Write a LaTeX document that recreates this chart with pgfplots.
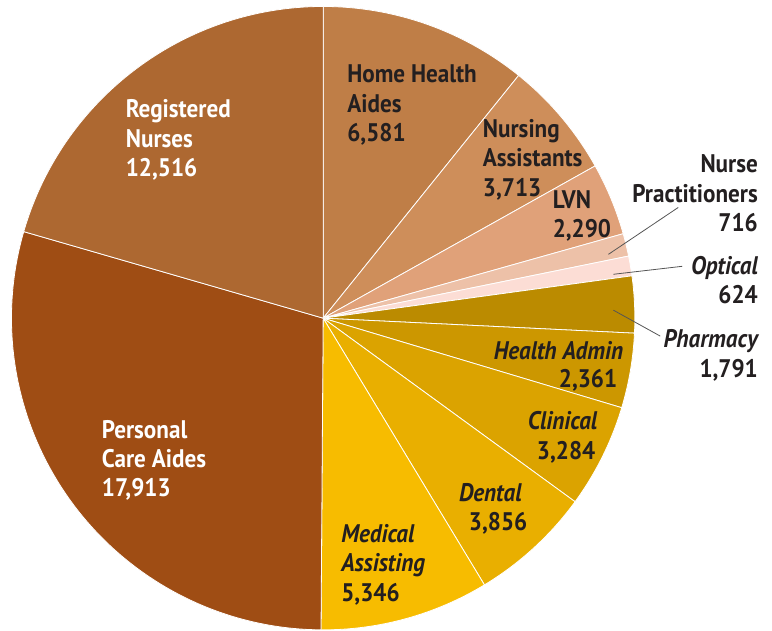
\documentclass[border=0pt]{standalone}
\usepackage{pgfplots}
\pgfplotsset{compat=1.18}
\usepackage{pgfplotstable}
\usepackage{fontspec}
\setmainfont{PT Sans}[FakeStretch=0.91]

\definecolor{c0}{HTML}{BF7E47}
\definecolor{c1}{HTML}{CE8E5A}
\definecolor{c2}{HTML}{E0A179}
\definecolor{c3}{HTML}{EDC1A8}
\definecolor{c4}{HTML}{FCDDD5}
\definecolor{c5}{HTML}{BB8B00}
\definecolor{c6}{HTML}{CC9700}
\definecolor{c7}{HTML}{DBA300}
\definecolor{c8}{HTML}{E9AF00}
\definecolor{c9}{HTML}{F7BC00}
\definecolor{c10}{HTML}{9F4D14}
\definecolor{c11}{HTML}{AD6831}
\definecolor{txt}{HTML}{231F20}
\definecolor{lead}{HTML}{555555}

\tikzset{lab/.style={font=\fontsize{25.5}{29}\selectfont\bfseries, text=txt, inner sep=0pt}}

\pgfplotstableread[col sep=comma]{
name,value
Home Health Aides,6581
Nursing Assistants,3713
LVN,2290
Nurse Practitioners,716
Optical,624
Pharmacy,1791
Health Admin,2361
Clinical,3284
Dental,3856
Medical Assisting,5346
Personal Care Aides,17913
Registered Nurses,12516
}\slices

\begin{document}
\begin{tikzpicture}
\begin{axis}[hide axis, scale only axis, width=772pt, height=632pt,
  xmin=0, xmax=772, ymin=0, ymax=632, clip=false]
\path (axis cs:0,0) rectangle (axis cs:772,632);
\def\total{0}
\pgfplotsforeachungrouped \i in {0,...,11}{%
  \pgfplotstablegetelem{\i}{value}\of\slices
  \xdef\total{\fpeval{\total+\pgfplotsretval}}%
}
\def\cum{0}
\pgfplotsforeachungrouped \i in {0,...,11}{%
  \pgfplotstablegetelem{\i}{value}\of\slices
  \edef\aS{\fpeval{90-360*\cum/\total}}%
  \xdef\cum{\fpeval{\cum+\pgfplotsretval}}%
  \edef\aE{\fpeval{90-360*\cum/\total}}%
  \edef\temp{\noexpand\filldraw[fill=c\i, draw=white, line width=0.8pt, line join=round]
    (axis cs:322,313) -- ++(\aS:312.5pt) arc[start angle=\aS, end angle=\aE, radius=312.5pt] -- cycle;}%
  \temp
}
% leader lines
\draw[lead, line width=0.8pt] (axis cs:608,377) -- (axis cs:678,424);
\draw[lead, line width=0.8pt] (axis cs:613,357) -- (axis cs:682,365);
\draw[lead, line width=0.8pt] (axis cs:613,321) -- (axis cs:660,295);
% Registered Nurses
\node[lab, anchor=base west, text=white] at (axis cs:124,514) {Registered};
\node[lab, anchor=base west, text=white] at (axis cs:124,484) {Nurses};
\node[lab, anchor=base west, text=white] at (axis cs:124,455) {12,516};
% Personal Care Aides
\node[lab, anchor=base west, text=white] at (axis cs:100,192) {Personal};
\node[lab, anchor=base west, text=white] at (axis cs:100,163) {Care Aides};
\node[lab, anchor=base west, text=white] at (axis cs:100,134) {17,913};
% Home Health Aides
\node[lab, anchor=base west] at (axis cs:346,549) {Home Health};
\node[lab, anchor=base west] at (axis cs:346,519) {Aides};
\node[lab, anchor=base west] at (axis cs:346,490) {6,581};
% Nursing Assistants
\node[lab, anchor=base west] at (axis cs:482,494) {Nursing};
\node[lab, anchor=base west] at (axis cs:482,465) {Assistants};
\node[lab, anchor=base west] at (axis cs:482,435) {3,713};
% LVN
\node[lab, anchor=base west] at (axis cs:552,423) {LVN};
\node[lab, anchor=base west] at (axis cs:552,394) {2,290};
% Nurse Practitioners
\node[lab, anchor=base east] at (axis cs:758,459) {Nurse};
\node[lab, anchor=base east] at (axis cs:758,429) {Practitioners};
\node[lab, anchor=base east] at (axis cs:758,400) {716};
% Optical
\node[lab, anchor=base east] at (axis cs:758,357) {\itshape Optical};
\node[lab, anchor=base east] at (axis cs:758,328) {624};
% Pharmacy
\node[lab, anchor=base east] at (axis cs:758,284) {\itshape Pharmacy};
\node[lab, anchor=base east] at (axis cs:758,254) {1,791};
% Health Admin
\node[lab, anchor=base east] at (axis cs:623,272) {\itshape Health Admin};
\node[lab, anchor=base east] at (axis cs:617,243) {2,361};
% Clinical
\node[lab, anchor=base east] at (axis cs:597,201) {\itshape Clinical};
\node[lab, anchor=base east] at (axis cs:595,171) {3,284};
% Dental
\node[lab, anchor=base west] at (axis cs:458,129) {\itshape Dental};
\node[lab, anchor=base west] at (axis cs:468,100) {3,856};
% Medical Assisting
\node[lab, anchor=base west] at (axis cs:340,88) {\itshape Medical};
\node[lab, anchor=base west] at (axis cs:340,59) {\itshape Assisting};
\node[lab, anchor=base west] at (axis cs:340,29) {5,346};
\end{axis}
\end{tikzpicture}
\end{document}
